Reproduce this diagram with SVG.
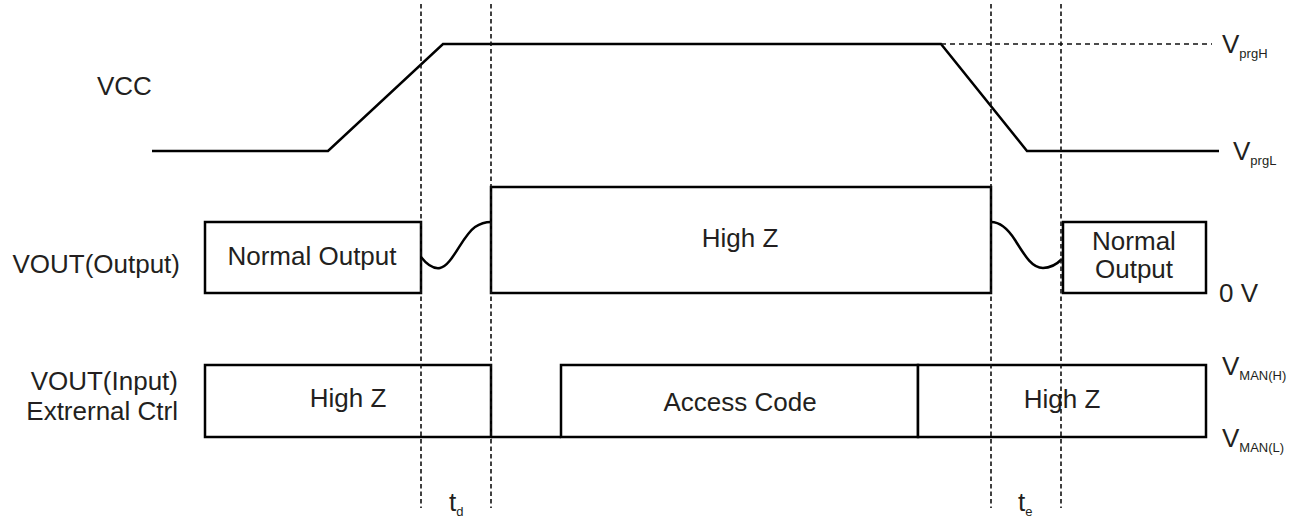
<svg xmlns="http://www.w3.org/2000/svg" width="1297" height="523" viewBox="0 0 1297 523">
<style>
  .sig { fill: none; stroke: #000; stroke-width: 2.5; stroke-linejoin: miter; }
  .box { fill: #fff; stroke: #000; stroke-width: 2.5; }
  .dash { fill: none; stroke: #111; stroke-width: 1.6; stroke-dasharray: 4.5 3; }
  .hdash { fill: none; stroke: #111; stroke-width: 1.3; stroke-dasharray: 5 4; }
  text { font-family: "Liberation Sans", Arial, sans-serif; font-size: 26px; fill: #231f20; }
  .mid { text-anchor: middle; }
  .end { text-anchor: end; }
  .sub { font-size: 13px; }
</style>
<rect width="1297" height="523" fill="#fff"/>

<g id="vcc">
  <polyline class="sig" points="152,151 328,151 443,44 941,44 1027,151 1219,151"/>
  <line class="hdash" x1="941" y1="44" x2="1212" y2="44"/>
  <text x="97" y="95">VCC</text>
  <text x="1222" y="53">V<tspan class="sub" dy="5">prgH</tspan></text>
  <text x="1233" y="160">V<tspan class="sub" dy="5">prgL</tspan></text>
</g>

<g id="vout-output">
  <text class="end" x="180" y="273">VOUT(Output)</text>
  <g id="normal-output-1">
    <rect class="box" x="205" y="222" width="216" height="71"/>
    <text class="mid" x="312" y="265">Normal Output</text>
  </g>
  <g id="highz-out">
    <rect class="box" x="491" y="187" width="500" height="106"/>
    <text class="mid" x="740" y="247">High Z</text>
  </g>
  <g id="normal-output-2">
    <rect class="box" x="1063" y="222" width="143" height="71"/>
    <text class="mid" x="1134" y="250">Normal</text>
    <text class="mid" x="1134" y="278">Output</text>
  </g>
  <text x="1219" y="302">0 V</text>
</g>

<g id="vout-input">
  <text class="end" x="178" y="390">VOUT(Input)</text>
  <text class="end" x="178" y="420">Extrernal Ctrl</text>
  <g id="highz-in-1">
    <rect class="box" x="205" y="365" width="286" height="72"/>
    <text class="mid" x="348" y="407">High Z</text>
  </g>
  <g id="access-code">
    <rect class="box" x="561" y="365" width="357" height="72"/>
    <text class="mid" x="740" y="411">Access Code</text>
  </g>
  <g id="highz-in-2">
    <rect class="box" x="918" y="365" width="288" height="72"/>
    <text class="mid" x="1062" y="408">High Z</text>
  </g>
  <text x="1222" y="375">V<tspan class="sub" dy="5">MAN(H)</tspan></text>
  <text x="1222" y="447">V<tspan class="sub" dy="5">MAN(L)</tspan></text>
</g>

<g id="connectors">
  <line class="sig" x1="491" y1="437" x2="561" y2="437"/>
  <path class="sig" d="M421,257 C428,266 434,269 440,268 C452,266 462,236 475,227 C481,223 486,222 491,222"/>
  <path class="sig" d="M991,222 C1001,222 1008,229 1015,240 C1025,256 1032,268 1043,268 C1051,268 1057,264 1062,259"/>
  <line class="dash" x1="421" y1="4" x2="421" y2="508"/>
  <line class="dash" x1="491" y1="4" x2="491" y2="508"/>
  <line class="dash" x1="991" y1="4" x2="991" y2="508"/>
  <line class="dash" x1="1061" y1="4" x2="1061" y2="508"/>
</g>

<g id="timing-labels">
  <text x="449" y="511">t<tspan class="sub" dy="5">d</tspan></text>
  <text x="1018" y="511">t<tspan class="sub" dy="5">e</tspan></text>
</g>
</svg>
